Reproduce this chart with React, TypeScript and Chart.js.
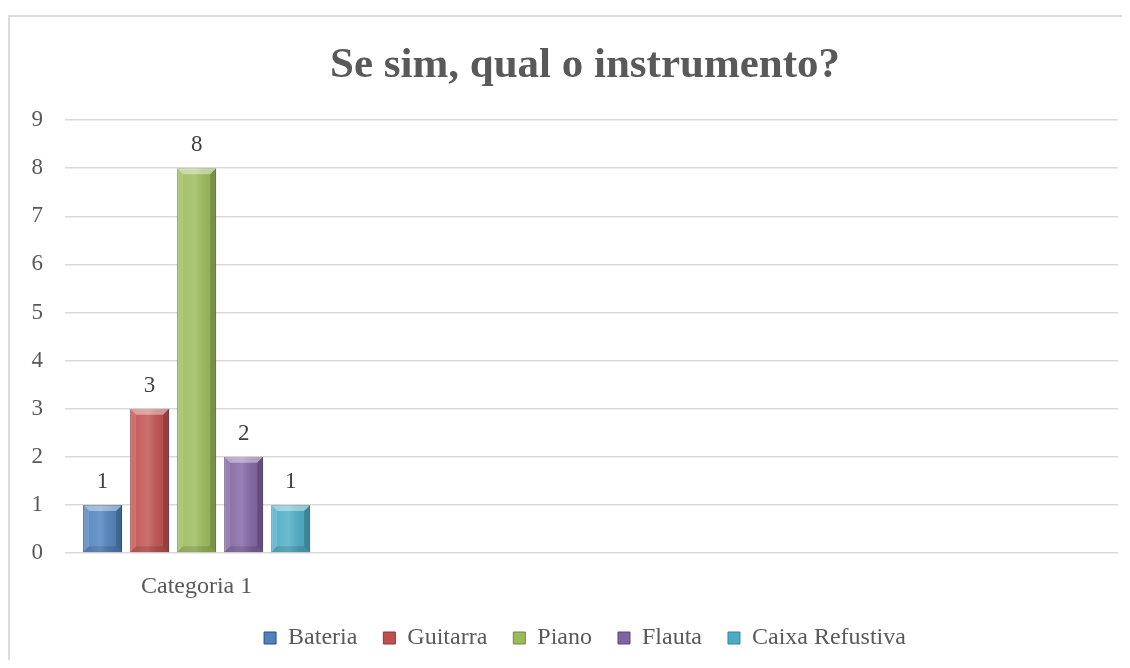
import React, { useEffect, useRef } from "react";
import { Chart, registerables } from "chart.js";

Chart.register(...registerables);

const TITLE = "Se sim, qual o instrumento?";
const categories = ["Categoria 1", "", "", ""];
const seriesNames = ["Bateria", "Guitarra", "Piano", "Flauta", "Caixa Refustiva"];
const bateria = [1, null, null, null];
const guitarra = [3, null, null, null];
const piano = [8, null, null, null];
const flauta = [2, null, null, null];
const caixa = [1, null, null, null];
const seriesValues = [bateria, guitarra, piano, flauta, caixa];
const fillColors = ["#4F81BD", "#C0504D", "#9BBB59", "#8064A2", "#4BACC6"];
const edgeColors = ["#2C4D75", "#8C3836", "#71893F", "#5C4776", "#31859C"];
const yTicks = [0, 1, 2, 3, 4, 5, 6, 7, 8, 9];

const FONT = "'Liberation Serif', 'Times New Roman', serif";

const bevelPlugin = {
  id: "bevel",
  afterDatasetsDraw(chart: any) {
    const ctx = chart.ctx;
    chart.data.datasets.forEach((_: any, di: number) => {
      const meta = chart.getDatasetMeta(di);
      meta.data.forEach((bar: any, i: number) => {
        const v = chart.data.datasets[di].data[i];
        if (v === null || v === undefined) return;
        const { x, y, base, width } = bar.getProps(["x", "y", "base", "width"], true);
        const l = x - width / 2;
        const r = x + width / 2;
        const b = 6;
        ctx.save();
        const g = ctx.createLinearGradient(l, 0, r, 0);
        g.addColorStop(0, "rgba(255,255,255,0.05)");
        g.addColorStop(0.45, "rgba(255,255,255,0.18)");
        g.addColorStop(1, "rgba(0,0,0,0.05)");
        ctx.fillStyle = g;
        ctx.fillRect(l, y, width, base - y);
        // top bevel
        ctx.fillStyle = "rgba(255,255,255,0.4)";
        ctx.beginPath();
        ctx.moveTo(l, y);
        ctx.lineTo(r, y);
        ctx.lineTo(r - b, y + b);
        ctx.lineTo(l + b, y + b);
        ctx.closePath();
        ctx.fill();
        // left bevel
        ctx.fillStyle = "rgba(255,255,255,0.12)";
        ctx.beginPath();
        ctx.moveTo(l, y);
        ctx.lineTo(l + b, y + b);
        ctx.lineTo(l + b, base - b);
        ctx.lineTo(l, base);
        ctx.closePath();
        ctx.fill();
        // right bevel
        ctx.fillStyle = "rgba(0,0,0,0.18)";
        ctx.beginPath();
        ctx.moveTo(r, y);
        ctx.lineTo(r - b, y + b);
        ctx.lineTo(r - b, base - b);
        ctx.lineTo(r, base);
        ctx.closePath();
        ctx.fill();
        // bottom bevel
        ctx.fillStyle = "rgba(0,0,0,0.12)";
        ctx.beginPath();
        ctx.moveTo(l, base);
        ctx.lineTo(r, base);
        ctx.lineTo(r - b, base - b);
        ctx.lineTo(l + b, base - b);
        ctx.closePath();
        ctx.fill();
        ctx.restore();
      });
    });
  },
};

const valueLabelPlugin = {
  id: "valueLabels",
  afterDatasetsDraw(chart: any) {
    const ctx = chart.ctx;
    ctx.save();
    ctx.font = `23px ${FONT}`;
    ctx.fillStyle = "#404040";
    ctx.textAlign = "center";
    ctx.textBaseline = "middle";
    chart.data.datasets.forEach((ds: any, di: number) => {
      const meta = chart.getDatasetMeta(di);
      meta.data.forEach((bar: any, i: number) => {
        const v = ds.data[i];
        if (v === null || v === undefined) return;
        const { x, y } = bar.getProps(["x", "y"], true);
        ctx.fillText(String(v), x, y - 23);
      });
    });
    ctx.restore();
  },
};

export default function App() {
  const ref = useRef<HTMLCanvasElement | null>(null);
  useEffect(() => {
    if (!ref.current) return;
    const chart = new Chart(ref.current, {
      type: "bar",
      data: {
        labels: categories,
        datasets: seriesNames.map((name, k) => ({
          label: name,
          data: seriesValues[k],
          backgroundColor: fillColors[k],
          borderColor: edgeColors[k],
          borderWidth: 1,
          categoryPercentage: 0.893,
          barPercentage: 0.83,
        })),
      },
      options: {
        responsive: false,
        animation: false,
        layout: { padding: { top: 0, left: 0, right: 0, bottom: 8 } },
        plugins: {
          title: {
            display: true,
            text: TITLE,
            color: "#595959",
            font: { family: FONT, size: 43, weight: "bold", lineHeight: 1.2 },
            padding: { top: 23, bottom: 28.5 },
          },
          legend: {
            position: "bottom",
            labels: {
              color: "#595959",
              font: { family: FONT, size: 24 },
              boxWidth: 12,
              boxHeight: 12,
              padding: 26,
            },
          },
          tooltip: { enabled: false },
        },
        scales: {
          x: {
            grid: { display: false, drawTicks: false },
            border: { display: false },
            ticks: {
              color: "#595959",
              font: { family: FONT, size: 24 },
              padding: 19,
              maxRotation: 0,
            },
            afterFit: (s: any) => {
              s.height = 47;
            },
          },
          y: {
            min: 0,
            max: 9,
            afterBuildTicks: (s: any) => {
              s.ticks = yTicks.map((v) => ({ value: v }));
            },
            grid: { color: "#d9d9d9", lineWidth: 1.5, drawTicks: false },
            border: { display: false },
            ticks: {
              color: "#595959",
              font: { family: FONT, size: 23 },
              padding: 22,
            },
            afterFit: (s: any) => {
              s.width = 55;
            },
          },
          yr: {
            position: "right",
            display: true,
            grid: { display: false, drawTicks: false },
            border: { display: false },
            ticks: { display: false },
            afterFit: (s: any) => {
              s.width = 42;
            },
          },
        },
      },
      plugins: [bevelPlugin, valueLabelPlugin],
    });
    return () => chart.destroy();
  }, []);

  return (
    <div style={{ paddingTop: 7, height: 645, width: 1122, overflow: "hidden" }}>
      <div
        style={{
          borderTop: "2px solid #dcdcdc",
          borderLeft: "2px solid #dcdcdc",
          width: 1160,
          height: 660,
          background: "#fff",
        }}
      >
        <canvas ref={ref} width={1150} height={651} style={{ display: "block" }} />
      </div>
    </div>
  );
}
